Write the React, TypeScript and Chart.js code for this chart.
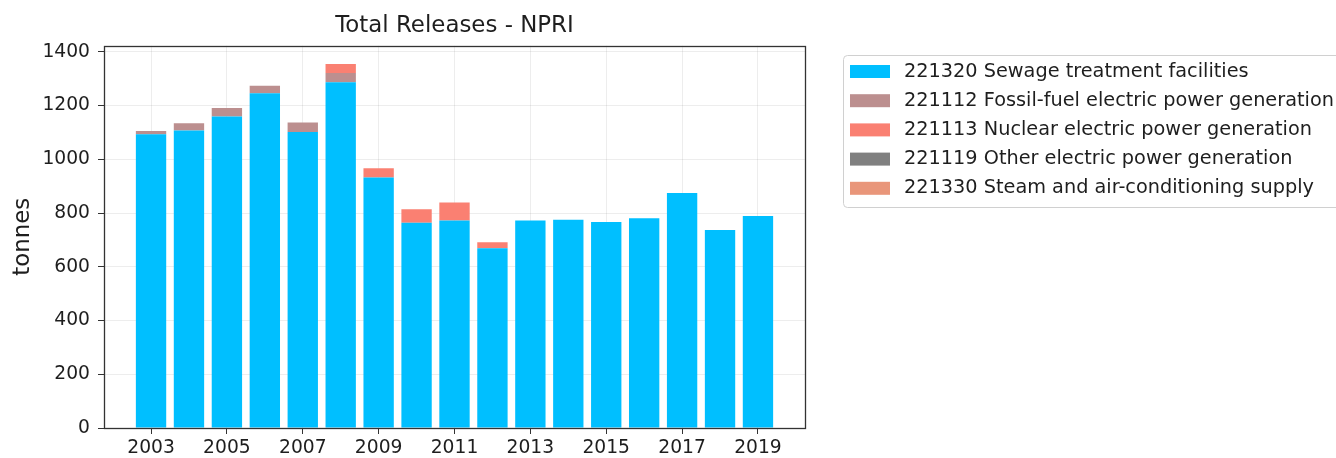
import React, { useEffect, useRef } from "react";
import { Chart, registerables } from "chart.js";

Chart.register(...registerables);

const years = [2003, 2004, 2005, 2006, 2007, 2008, 2009, 2010, 2011, 2012, 2013, 2014, 2015, 2016, 2017, 2018, 2019];
const xTickYears = [2003, 2005, 2007, 2009, 2011, 2013, 2015, 2017, 2019];
const yTickValues = [0, 200, 400, 600, 800, 1000, 1200, 1400];

const sewage = [1093, 1107, 1159, 1246, 1102, 1287, 932, 764, 772, 669, 772, 775, 767, 781, 875, 737, 789];
const fossil = [12, 27, 32, 28, 35, 34, 0, 0, 0, 0, 0, 0, 0, 0, 0, 0, 0];
const nuclear = [0, 0, 0, 0, 0, 34, 35, 50, 67, 22, 0, 0, 0, 0, 0, 0, 0];
const otherPower = [0, 0, 0, 0, 0, 0, 0, 0, 0, 0, 0, 0, 0, 0, 0, 0, 0];
const steam = [0, 0, 0, 0, 0, 0, 0, 0, 0, 0, 0, 0, 0, 0, 0, 0, 0];

const seriesLabels = [
  "221320 Sewage treatment facilities",
  "221112 Fossil-fuel electric power generation",
  "221113 Nuclear electric power generation",
  "221119 Other electric power generation",
  "221330 Steam and air-conditioning supply",
];
const seriesColors = ["#00BFFF", "#BC8F8F", "#FA8072", "#808080", "#E9967A"];
const seriesValues = [sewage, fossil, nuclear, otherPower, steam];

const FONT = "'DejaVu Sans', sans-serif";
const TEXT = "#1e1e1e";

const framePlugin = {
  id: "frame",
  afterDatasetsDraw(chart: any) {
    const { ctx, chartArea } = chart;
    ctx.save();
    ctx.strokeStyle = "#333333";
    ctx.lineWidth = 1.3;
    ctx.strokeRect(
      Math.round(chartArea.left) + 0.5,
      Math.round(chartArea.top) + 0.5,
      Math.round(chartArea.right - chartArea.left),
      Math.round(chartArea.bottom - chartArea.top)
    );
    ctx.restore();
  },
};

const legendPlugin = {
  id: "customLegend",
  afterDraw(chart: any) {
    const { ctx } = chart;
    ctx.save();
    const bx = 843.5, by = 55.5, bw = 520, bh = 152;
    ctx.beginPath();
    ctx.roundRect(bx, by, bw, bh, 4);
    ctx.fillStyle = "rgba(255,255,255,0.85)";
    ctx.fill();
    ctx.strokeStyle = "#d0d0d0";
    ctx.lineWidth = 1;
    ctx.stroke();
    ctx.font = `19.3px ${FONT}`;
    ctx.textBaseline = "middle";
    ctx.textAlign = "left";
    chart.data.datasets.forEach((ds: any, i: number) => {
      const cy = 71.5 + i * 29.2;
      ctx.fillStyle = ds.backgroundColor;
      ctx.fillRect(850, cy - 6.5, 40, 13);
      ctx.fillStyle = TEXT;
      ctx.fillText(ds.label, 904, cy);
    });
    ctx.restore();
  },
};

export default function App() {
  const canvasRef = useRef<HTMLCanvasElement | null>(null);

  useEffect(() => {
    document.body.style.margin = "0";
    const canvas = canvasRef.current;
    if (!canvas) return;
    const chart = new Chart(canvas, {
      type: "bar",
      data: {
        datasets: seriesLabels.map((label, i) => ({
          label,
          data: years.map((y, j) => ({ x: y, y: seriesValues[i][j] })),
          backgroundColor: seriesColors[i],
          borderWidth: 0,
          barPercentage: 0.8,
          categoryPercentage: 1.0,
        })),
      },
      options: {
        animation: false,
        responsive: false,
        maintainAspectRatio: false,
        layout: { padding: { left: 0, right: 531, top: 0, bottom: 0 } },
        plugins: {
          legend: { display: false },
          tooltip: { enabled: false },
          title: {
            display: true,
            text: "Total Releases - NPRI",
            fullSize: false,
            color: TEXT,
            font: { family: FONT, size: 22.9, weight: "normal", lineHeight: 1.2 },
            padding: { top: 12, bottom: 6.2 },
          },
        },
        scales: {
          x: {
            type: "linear",
            stacked: true,
            min: 2001.76,
            max: 2020.24,
            offset: false,
            afterBuildTicks: (scale: any) => {
              scale.ticks = xTickYears.map((v) => ({ value: v }));
            },
            afterFit: (scale: any) => {
              scale.height = 30;
            },
            ticks: {
              color: TEXT,
              font: { family: FONT, size: 18.7 },
              padding: 3,
              maxRotation: 0,
              autoSkip: false,
              callback: (v: any) => String(v),
            },
            grid: {
              offset: false,
              color: "rgba(0,0,0,0.07)",
              tickColor: "#333333",
              tickLength: 6,
              drawTicks: true,
            },
            border: { display: false },
          },
          y: {
            type: "linear",
            stacked: true,
            min: 0,
            max: 1423,
            afterBuildTicks: (scale: any) => {
              scale.ticks = yTickValues.map((v) => ({ value: v }));
            },
            afterFit: (scale: any) => {
              scale.width = 104;
            },
            ticks: {
              color: TEXT,
              font: { family: FONT, size: 18.7 },
              padding: 8,
              callback: (v: any) => String(v),
            },
            grid: {
              offset: false,
              color: "rgba(0,0,0,0.07)",
              tickColor: "#333333",
              tickLength: 6,
              drawTicks: true,
            },
            border: { display: false },
            title: {
              display: true,
              text: "tonnes",
              color: TEXT,
              font: { family: FONT, size: 22.9, lineHeight: 1.2 },
              padding: { top: 9, bottom: 0 },
            },
          },
        },
      },
      plugins: [framePlugin, legendPlugin],
    });
    return () => chart.destroy();
  }, []);

  return (
    <div style={{ position: "fixed", left: 0, top: 0, width: 1336, height: 458, background: "#fff" }}>
      <canvas ref={canvasRef} width={1336} height={458} style={{ width: 1336, height: 458, display: "block" }} />
    </div>
  );
}
